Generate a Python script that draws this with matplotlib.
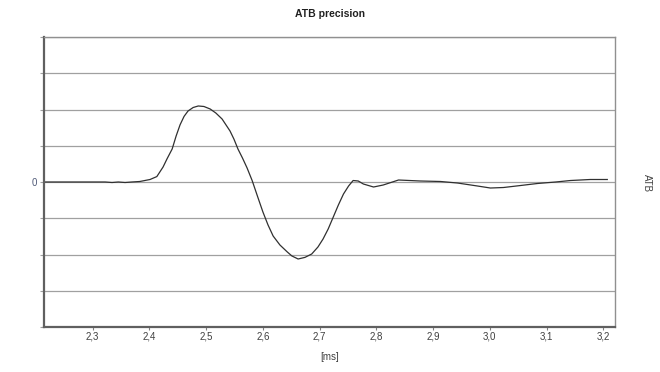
import matplotlib.pyplot as plt
from matplotlib.ticker import FixedLocator, FuncFormatter

plt.rcParams["font.family"] = ["Liberation Sans", "DejaVu Sans"]

# response: time in ms, amplitude in grid units
t_ms = [
    2.214, 2.278, 2.322, 2.334, 2.345, 2.357, 2.369, 2.383, 2.401, 2.413,
    2.424, 2.431, 2.440, 2.447, 2.454, 2.461, 2.468, 2.477, 2.486, 2.496,
    2.507, 2.517, 2.528, 2.542, 2.549, 2.556, 2.564, 2.572, 2.581, 2.591,
    2.600, 2.609, 2.618, 2.630, 2.643, 2.651, 2.662, 2.674, 2.686, 2.697,
    2.706, 2.715, 2.724, 2.733, 2.742, 2.751, 2.759, 2.768, 2.777, 2.795,
    2.812, 2.839, 2.877, 2.913, 2.943, 2.978, 3.001, 3.024, 3.054, 3.084,
    3.116, 3.142, 3.177, 3.207,
]
atb = [
    0.000, 0.000, 0.000, -0.014, 0.000, -0.014, 0.000, 0.014, 0.069, 0.150,
    0.414, 0.640, 0.910, 1.269, 1.580, 1.810, 1.959, 2.055, 2.097, 2.083,
    2.014, 1.903, 1.738, 1.407, 1.180, 0.910, 0.660, 0.390, 0.040, -0.420,
    -0.828, -1.186, -1.490, -1.738, -1.931, -2.040, -2.124, -2.080, -1.986, -1.793,
    -1.572, -1.297, -0.966, -0.634, -0.331, -0.110, 0.041, 0.028, -0.055, -0.138,
    -0.083, 0.055, 0.028, 0.014, -0.028, -0.110, -0.166, -0.152, -0.097, -0.041,
    0.000, 0.041, 0.069, 0.069,
]
x_ticks = [2.3, 2.4, 2.5, 2.6, 2.7, 2.8, 2.9, 3.0, 3.1, 3.2]
y_grid = [-4, -3, -2, -1, 0, 1, 2, 3, 4]

fig = plt.figure(figsize=(6.6, 3.72), dpi=100)
ax = fig.add_axes([44 / 660, 45 / 372, 571 / 660, 290 / 372])

ax.plot(t_ms, atb, color="#303030", lw=0.9)

ax.set_xlim(2.2141, 3.2206)
ax.set_ylim(-4, 4)

ax.xaxis.set_major_locator(FixedLocator(x_ticks))
ax.xaxis.set_major_formatter(FuncFormatter(lambda v, p: f"{v:.1f}".replace(".", ",")))
ax.yaxis.set_major_locator(FixedLocator(y_grid))
ax.yaxis.set_major_formatter(FuncFormatter(lambda v, p: "0" if abs(v) < 1e-9 else ""))

ax.grid(axis="y", color="#a0a0a0", lw=0.9)
ax.set_axisbelow(True)
ax.tick_params(axis="x", length=2, width=0.8, color="#808080", labelsize=7, labelcolor="#404040", pad=1.5)
ax.tick_params(axis="y", length=3, width=0.8, color="#a0a0a0", labelsize=7, labelcolor="#505a78", pad=2)

for side in ["top", "right"]:
    ax.spines[side].set_color("#909090")
    ax.spines[side].set_linewidth(1.0)
for side in ["left", "bottom"]:
    ax.spines[side].set_color("#606060")
    ax.spines[side].set_linewidth(1.6)

fig.text(330 / 660, 1 - 14 / 372, "ATB precision", ha="center", va="center",
         fontsize=7.5, fontweight="bold", color="#202020")
fig.text(330 / 660, 1 - 357 / 372, "[ms]", ha="center", va="center",
         fontsize=7, color="#404040")
fig.text(647 / 660, 1 - 183 / 372, "ATB", ha="center", va="center",
         fontsize=7, color="#404040", rotation=-90)

fig.savefig("out.png", dpi=100, facecolor="white")
